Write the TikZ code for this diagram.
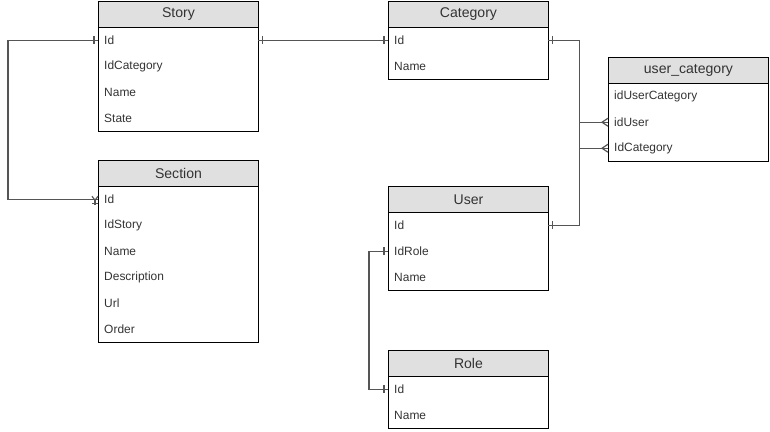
\documentclass[tikz,border=0pt]{standalone}
\usepackage{fontspec}
\setmainfont{Liberation Sans}
\usetikzlibrary{calc,positioning}
\definecolor{headgray}{RGB}{224,224,224}
\definecolor{linkgray}{RGB}{85,85,85}
\definecolor{textgray}{RGB}{51,51,51}

\begin{document}
\begin{tikzpicture}[x=0.03cm, y=-0.03cm,
  every node/.style={font=\fontsize{10.2}{12}\selectfont, text=textgray},
  head/.style={draw=black, fill=headgray, line width=0.8pt, anchor=north west,
    minimum width=4.8cm, minimum height=0.78cm, inner sep=0pt,
    font=\fontsize{12}{14}\selectfont},
  field/.style={anchor=north west, minimum height=0.78cm, text width=4.44cm,
    inner xsep=0.18cm, inner ysep=0pt, align=left},
  box/.style={draw=black, line width=0.8pt},
  link/.style={draw=linkgray, line width=1pt}]

  \useasboundingbox (0,0) rectangle (770,432);

  % ========== TABLES ==========
  % Story
  \node[head] (story) at (98,1) {Story};
  \foreach \f [count=\i] in {Id,IdCategory,Name,State}
    \node[field] (story-\i) at (98,{27+26*(\i-1)}) {\f};
  \draw[box] (story.south west) rectangle (story-4.south east);

  % Section
  \node[head] (section) at (98,160) {Section};
  \foreach \f [count=\i] in {Id,IdStory,Name,Description,Url,Order}
    \node[field] (section-\i) at (98,{186+26*(\i-1)}) {\f};
  \draw[box] (section.south west) rectangle (section-6.south east);

  % Category
  \node[head] (category) at (388,1) {Category};
  \foreach \f [count=\i] in {Id,Name}
    \node[field] (category-\i) at (388,{27+26*(\i-1)}) {\f};
  \draw[box] (category.south west) rectangle (category-2.south east);

  % user_category
  \node[head] (usercat) at (608,57) {user\_category};
  \foreach \f [count=\i] in {idUserCategory,idUser,IdCategory}
    \node[field] (usercat-\i) at (608,{83+26*(\i-1)}) {\f};
  \draw[box] (usercat.south west) rectangle (usercat-3.south east);

  % User
  \node[head] (user) at (388,186) {User};
  \foreach \f [count=\i] in {Id,IdRole,Name}
    \node[field] (user-\i) at (388,{212+26*(\i-1)}) {\f};
  \draw[box] (user.south west) rectangle (user-3.south east);

  % Role
  \node[head] (role) at (388,350) {Role};
  \foreach \f [count=\i] in {Id,Name}
    \node[field] (role-\i) at (388,{376+26*(\i-1)}) {\f};
  \draw[box] (role.south west) rectangle (role-2.south east);

  % ========== RELATIONS ==========
  \draw[link] (story-1.west) -- ++(-90,0) |- (section-1.west);
  \draw[link] (story-1.east) -- (category-1.west);
  \draw[link] (category-1.east) -- ++(31,0) |- (user-1.east);
  \draw[link] (category-1.east) -- ++(31,0) |- (usercat-3.west);
  \draw[link] (user-1.east) -- ++(31,0) |- (usercat-2.west);
  \draw[link] (user-2.west) -- ++(-19,0) |- (role-1.west);

  % One markers
  \foreach \p in {story-1.west, category-1.west, user-2.west, role-1.west}
    \draw[link] ($(\p)+(-4,-4)$) -- ++(0,8);
  \foreach \p in {story-1.east, category-1.east, user-1.east}
    \draw[link] ($(\p)+(4,-4)$) -- ++(0,8);

  % Many markers
  \foreach \p in {usercat-2.west, usercat-3.west}{
    \draw[link] ($(\p)+(0,-4)$) -- ($(\p)+(-6,0)$) -- ($(\p)+(0,4)$);
  }
  \draw[link] ($(section-1.west)+(-6,-3)$) -- ($(section-1.west)+(-3,1)$)
    -- ($(section-1.west)+(0,-3)$);
  \draw[link] ($(section-1.west)+(-3,1)$) -- ++(0,5);
  \draw[link] ($(section-1.west)+(-6,4)$) -- ++(6,0);

\end{tikzpicture}
\end{document}
